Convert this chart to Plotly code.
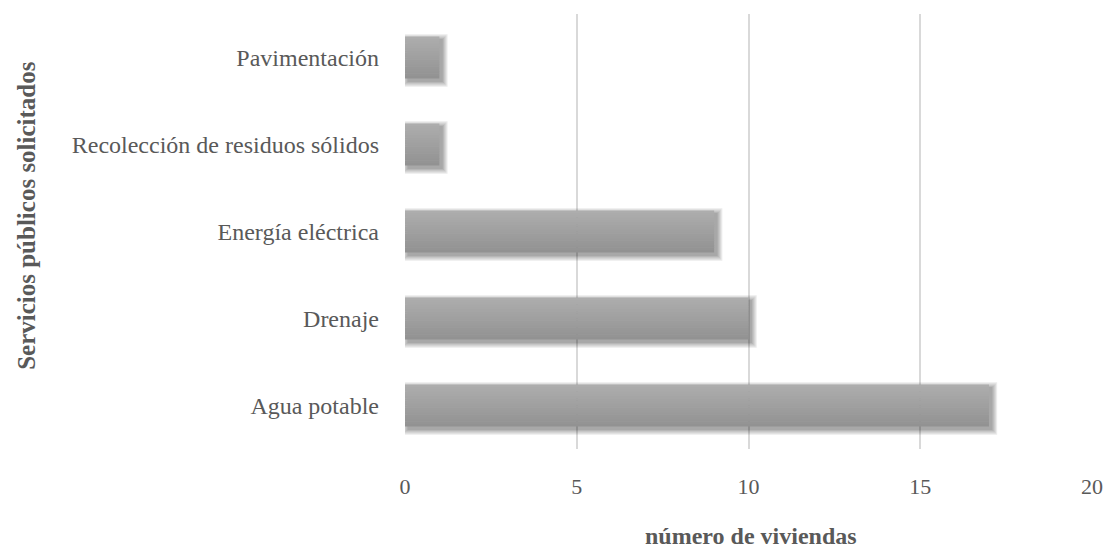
import plotly.graph_objects as go

# Requested public services and number of dwellings requesting each
servicios = [
    "Agua potable",
    "Drenaje",
    "Energía eléctrica",
    "Recolección de residuos sólidos",
    "Pavimentación",
]
viviendas = [17, 10, 9, 1, 1]
x_ticks = [0, 5, 10, 15, 20]

W, H = 1115, 548
M_L, M_R, M_T, M_B = 405, 16, 14, 99
X_MAX = 20
BAR_W = 0.48

plot_w = W - M_L - M_R
plot_h = H - M_T - M_B
px_x = X_MAX / plot_w              # data units per pixel (x)
px_y = len(servicios) / plot_h     # category units per pixel (y)

FONT = "Liberation Serif, Times New Roman, serif"
TXT = "#595959"

fig = go.Figure()

# soft drop shadow, offset down-right, built from translucent layers
SH_DX, SH_DY = 3, 3
for k in range(5):
    grow = 0.5 + 1.2 * k
    fig.add_bar(
        y=servicios,
        x=[v + 2 * grow * px_x for v in viviendas],
        base=(SH_DX - grow) * px_x,
        orientation="h",
        offset=-BAR_W / 2 - (SH_DY + grow) * px_y,
        width=BAR_W + 2 * grow * px_y,
        marker=dict(color="rgba(0,0,0,0.08)", line=dict(width=0)),
        hoverinfo="skip",
        showlegend=False,
    )

# vertical grey gradient on each bar: light on top, darker at the bottom
N = 18
top_rgb, bot_rgb = (173, 173, 173), (146, 146, 146)
slice_w = BAR_W / N
for i in range(N):
    t = i / (N - 1)
    c = tuple(round(b + (a - b) * t) for a, b in zip(top_rgb, bot_rgb))
    fig.add_bar(
        y=servicios,
        x=viviendas,
        orientation="h",
        offset=-BAR_W / 2 + i * slice_w,
        width=slice_w + (0.004 if i < N - 1 else 0),
        marker=dict(color=f"rgb{c}", line=dict(width=0)),
        hovertemplate="%{y}: %{x}<extra></extra>" if i == 0 else None,
        hoverinfo=None if i == 0 else "skip",
        showlegend=False,
    )

fig.update_layout(
    width=W,
    height=H,
    margin=dict(l=M_L, r=M_R, t=M_T, b=M_B, pad=0),
    barmode="overlay",
    paper_bgcolor="white",
    plot_bgcolor="white",
    font=dict(family=FONT, color=TXT, size=24),
    xaxis=dict(
        range=[0, X_MAX],
        tickvals=x_ticks,
        ticktext=[str(v) for v in x_ticks],
        showgrid=True,
        gridcolor="#d9d9d9",
        gridwidth=1.5,
        zeroline=False,
        showline=False,
        ticks="",
        ticklabelstandoff=22,
        tickfont=dict(family=FONT, size=22, color=TXT),
    ),
    yaxis=dict(
        type="category",
        categoryorder="array",
        categoryarray=servicios,
        range=[-0.5, len(servicios) - 0.5],
        showgrid=False,
        zeroline=False,
        showline=False,
        ticks="",
        ticklabelstandoff=25,
        tickfont=dict(family=FONT, size=24, color=TXT),
    ),
    annotations=[
        dict(
            text="<b>número de viviendas</b>",
            xref="paper", yref="paper",
            x=(755 - M_L) / plot_w, y=-(536 - (M_T + plot_h)) / plot_h,
            xanchor="center", yanchor="middle",
            showarrow=False,
            font=dict(family=FONT, size=24, color=TXT),
        ),
        dict(
            text="<b>Servicios públicos solicitados</b>",
            xref="paper", yref="paper",
            x=(22 - M_L) / plot_w, y=((M_T + plot_h) - 215) / plot_h,
            xanchor="center", yanchor="middle",
            textangle=-90,
            showarrow=False,
            font=dict(family=FONT, size=25, color=TXT),
        ),
    ],
)

fig.write_html("out.html")
